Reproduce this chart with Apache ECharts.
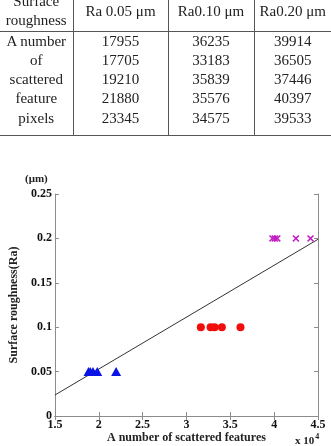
<!DOCTYPE html>
<html>
<head>
<meta charset="utf-8">
<script src="https://cdn.jsdelivr.net/npm/echarts@6/dist/echarts.min.js"></script>
<style>
  html, body {
    margin: 0;
    padding: 0;
    background: #fff;
  }
  .page {
    position: relative;
    width: 331px;
    height: 446px;
    overflow: hidden;
  }
  .chart {
    position: absolute;
    left: 0;
    top: 0;
    width: 331px;
    height: 446px;
  }
  .tbl {
    position: absolute;
    left: 0;
    top: -8px;
    width: 331px;
    border-collapse: collapse;
    font-family: "Liberation Serif", "DejaVu Serif", serif;
    font-size: 15px;
    color: #222;
    z-index: 2;
  }
  .tbl td {
    padding: 0;
    text-align: center;
    vertical-align: middle;
    line-height: 19.3px;
  }
  .tbl tr.head td {
    height: 36px;
    border-bottom: 1.5px solid #555;
  }
  .tbl tr.body td {
    padding-top: 0;
    padding-bottom: 7px;
    vertical-align: top;
    border-bottom: 1.5px solid #555;
  }
  .tbl td + td {
    border-left: 1.5px solid #555;
  }
</style>
</head>
<body>
<div class="page">
  <div id="chart" class="chart"></div>
  <table class="tbl" id="tbl"></table>
</div>
<script>
// 表格数据
const tableHeads = ['Ra 0.05 \u03bcm', 'Ra0.10 \u03bcm', 'Ra0.20 \u03bcm']
const tableRowLabel = ['A number', 'of', 'scattered', 'feature', 'pixels']
const table005 = [17955, 17705, 19210, 21880, 23345]
const table010 = [36235, 33183, 35839, 35576, 34575]
const table020 = [39914, 36505, 37446, 40397, 39533]

// 散点数据 (读自图中)
const x005 = [18830, 19030, 19340, 19830, 21980]
const x010 = [31640, 32750, 33200, 34040, 36160]
const x020 = [39810, 40080, 40360, 42480, 44150]
const ra = [0.05, 0.10, 0.20]

// 拟合直线
const fitX = [15000, 45000]
const fitY = [0.0236, 0.199]

const xTicks = [15000, 45000, 5000]
const yTicks = [0, 0.25, 0.05]

// build table
const tbl = document.getElementById('tbl')
tbl.innerHTML =
  '<colgroup><col style="width:73px"><col style="width:95px"><col style="width:86px"><col style="width:77px"></colgroup>' +
  '<tr class="head"><td>Surface<br>roughness</td>' +
  tableHeads.map(h => '<td>' + h + '</td>').join('') + '</tr>' +
  '<tr class="body"><td>' + tableRowLabel.join('<br>') + '</td>' +
  [table005, table010, table020].map(col => '<td>' + col.join('<br>') + '</td>').join('') +
  '</tr>'

const chart = echarts.init(document.getElementById('chart'))

const font = '"Liberation Serif", "DejaVu Serif", serif'
const axisGray = '#8c8c8c'

const pts = (xs, y) => xs.map(x => [x, y])

const xMark = 'path://M0,1.5L1.5,0L5,3.5L8.5,0L10,1.5L6.5,5L10,8.5L8.5,10L5,6.5L1.5,10L0,8.5L3.5,5Z'

const option = {
  animation: false,
  grid: {
    left: 48,
    right: 13,
    top: 194,
    bottom: 30
  },
  xAxis: [
    {
      type: 'value',
      min: xTicks[0],
      max: xTicks[1],
      interval: xTicks[2],
      position: 'bottom',
      name: 'A number of scattered features',
      nameLocation: 'middle',
      nameGap: 16,
      nameTextStyle: {
        fontFamily: font,
        fontWeight: 'bold',
        fontSize: 12,
        color: '#222'
      },
      axisLine: { lineStyle: { color: axisGray, width: 1 } },
      axisTick: { inside: true, length: 4, lineStyle: { color: axisGray } },
      splitLine: { show: false },
      axisLabel: {
        margin: 3,
        fontFamily: font,
        fontWeight: 'bold',
        fontSize: 12,
        color: '#111',
        formatter: v => String(v / 10000)
      }
    },
    {
      type: 'value',
      min: xTicks[0],
      max: xTicks[1],
      interval: xTicks[2],
      position: 'top',
      axisLine: { lineStyle: { color: axisGray, width: 1 } },
      axisTick: { inside: true, length: 4, lineStyle: { color: axisGray } },
      splitLine: { show: false },
      axisLabel: { show: false }
    }
  ],
  yAxis: [
    {
      type: 'value',
      min: yTicks[0],
      max: yTicks[1],
      interval: yTicks[2],
      position: 'left',
      name: 'Surface roughness(Ra)',
      nameLocation: 'middle',
      nameGap: 26,
      nameRotate: 90,
      nameTextStyle: {
        fontFamily: font,
        fontWeight: 'bold',
        fontSize: 12,
        color: '#222'
      },
      axisLine: { lineStyle: { color: axisGray, width: 1 } },
      axisTick: { inside: true, length: 4, lineStyle: { color: axisGray } },
      splitLine: { show: false },
      axisLabel: {
        margin: 3,
        fontFamily: font,
        fontWeight: 'bold',
        fontSize: 12,
        color: '#111',
        formatter: v => String(+v.toFixed(2))
      }
    },
    {
      type: 'value',
      min: yTicks[0],
      max: yTicks[1],
      interval: yTicks[2],
      position: 'right',
      axisLine: { lineStyle: { color: axisGray, width: 1 } },
      axisTick: { inside: true, length: 4, lineStyle: { color: axisGray } },
      splitLine: { show: false },
      axisLabel: { show: false }
    }
  ],
  graphic: [
    {
      type: 'text',
      left: 25,
      top: 174,
      style: {
        text: '(\u03bcm)',
        fontFamily: font,
        fontWeight: 'bold',
        fontSize: 11,
        fill: '#222'
      }
    },
    {
      type: 'text',
      left: 295,
      top: 433,
      style: {
        text: 'x 10{s|4}',
        fontFamily: font,
        fontWeight: 'bold',
        fontSize: 11,
        fill: '#222',
        rich: {
          s: {
            fontFamily: font,
            fontWeight: 'bold',
            fontSize: 8,
            verticalAlign: 'top',
            padding: [0, 0, 8, 1]
          }
        }
      }
    }
  ],
  series: [
    {
      type: 'line',
      data: fitX.map((x, i) => [x, fitY[i]]),
      symbol: 'none',
      lineStyle: { color: '#333', width: 1 },
      z: 1
    },
    {
      type: 'scatter',
      data: pts(x005, ra[0]),
      symbol: 'triangle',
      symbolSize: [10, 9],
      itemStyle: { color: '#0a14e6', opacity: 1 },
      z: 3
    },
    {
      type: 'scatter',
      data: pts(x010, ra[1]),
      symbol: 'circle',
      symbolSize: 8,
      itemStyle: { color: '#f20d0d', opacity: 1 },
      z: 3
    },
    {
      type: 'scatter',
      data: pts(x020, ra[2]),
      symbol: xMark,
      symbolSize: 7,
      itemStyle: { color: '#c21dc4', opacity: 1 },
      z: 3
    }
  ]
}

chart.setOption(option)
</script>
</body>
</html>
